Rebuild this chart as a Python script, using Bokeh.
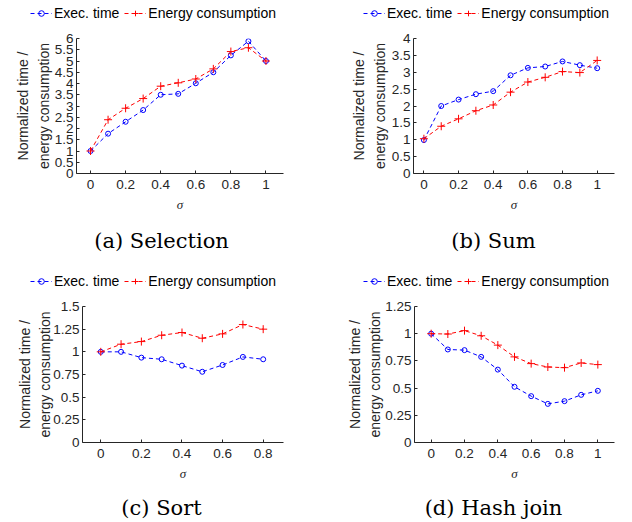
from bokeh.plotting import figure
from bokeh.layouts import row, column
from bokeh.models import Legend, LegendItem, Label, FixedTicker, NumeralTickFormatter, Range1d
from bokeh.embed import file_html
from bokeh.resources import INLINE

# ---------------- data ----------------
sigma_full = [0.0, 0.1, 0.2, 0.3, 0.4, 0.5, 0.6, 0.7, 0.8, 0.9, 1.0]
sigma_sort = [0.0, 0.1, 0.2, 0.3, 0.4, 0.5, 0.6, 0.7, 0.8]

sel_exec = [1.0, 1.77, 2.3, 2.82, 3.5, 3.54, 4.01, 4.5, 5.25, 5.88, 5.0]
sel_energy = [1.0, 2.39, 2.9, 3.33, 3.88, 4.03, 4.2, 4.65, 5.42, 5.59, 5.0]

sum_exec = [0.99, 2.0, 2.19, 2.35, 2.44, 2.91, 3.13, 3.17, 3.32, 3.21, 3.12]
sum_energy = [1.03, 1.4, 1.62, 1.86, 2.03, 2.41, 2.71, 2.85, 3.02, 2.99, 3.35]

sort_exec = [1.0, 1.0, 0.936, 0.918, 0.848, 0.78, 0.855, 0.944, 0.918]
sort_energy = [1.0, 1.084, 1.113, 1.183, 1.213, 1.15, 1.198, 1.301, 1.25]

hj_exec = [1.0, 0.855, 0.849, 0.787, 0.67, 0.512, 0.426, 0.355, 0.38, 0.438, 0.475]
hj_energy = [1.0, 0.997, 1.028, 0.981, 0.895, 0.787, 0.725, 0.694, 0.688, 0.731, 0.716]

x_ticks_full = [0, 0.2, 0.4, 0.6, 0.8, 1]
x_ticks_sort = [0, 0.2, 0.4, 0.6, 0.8]
y_ticks_sel = [0, 0.5, 1, 1.5, 2, 2.5, 3, 3.5, 4, 4.5, 5, 5.5, 6]
y_ticks_sum = [0, 0.5, 1, 1.5, 2, 2.5, 3, 3.5, 4]
y_ticks_sort = [0, 0.25, 0.5, 0.75, 1, 1.25, 1.5]
y_ticks_hj = [0, 0.25, 0.5, 0.75, 1, 1.25]

captions = ["(a) Selection", "(b) Sum", "(c) Sort", "(d) Hash join"]
series_names = ["Exec. time", "Energy consumption"]
y_label = "Normalized time /\nenergy consumption"
x_label = "\u03c3"

BLUE = "#0000ff"
RED = "#ff0000"
AX = "#262626"
SANS = "Liberation Sans"
COL_W = 316


def draw_series(p, x, ex, en):
    l1 = p.line(x, ex, line_color=BLUE, line_dash="4 3", line_width=1)
    s1 = p.scatter(x, ex, marker="circle", size=5, line_color=BLUE,
                   fill_color=None, line_width=1)
    l2 = p.line(x, en, line_color=RED, line_dash="4 3", line_width=1)
    s2 = p.scatter(x, en, marker="cross", size=8, line_color=RED, line_width=1)
    return l1, s1, l2, s2


def blank_fig(h, xr=(0, 1), yr=(0, 1)):
    f = figure(width=COL_W, height=h, output_backend="svg", toolbar_location=None,
               x_axis_type=None, y_axis_type=None, x_range=Range1d(*xr), y_range=Range1d(*yr),
               min_border=0, min_border_left=0, min_border_right=0,
               min_border_top=0, min_border_bottom=0)
    f.outline_line_color = None
    f.grid.visible = False
    f.background_fill_color = "white"
    f.border_fill_color = "white"
    return f


def legend_fig(x, ex, en, leg_x):
    # series drawn outside the visible range: only the legend entries show
    f = blank_fig(26, xr=(-10, -9), yr=(-10, -9))
    l1, s1, l2, s2 = draw_series(f, x, ex, en)
    legend = Legend(items=[LegendItem(label=series_names[0], renderers=[l1, s1]),
                           LegendItem(label=series_names[1], renderers=[l2, s2])],
                    orientation="horizontal", location=(leg_x, 5),
                    padding=0, margin=0, spacing=5, glyph_width=22, glyph_height=14,
                    label_height=14, label_standoff=2,
                    label_text_font=SANS, label_text_font_size="14px",
                    label_text_color="black",
                    background_fill_alpha=0, border_line_color=None)
    f.add_layout(legend)
    return f


def caption_fig(h, text, cx, cy):
    f = blank_fig(h)
    f.add_layout(Label(x=cx, y=cy, x_units="screen", y_units="screen",
                       text=text, text_align="center", text_baseline="alphabetic",
                       text_font="DejaVu Serif", text_font_size="21px",
                       text_color="black"))
    return f


def plot_fig(x, ex, en, xr, yr, xticks, yticks, h, bl, br, bt, bb, ystand):
    p = figure(width=COL_W, height=h, output_backend="svg", toolbar_location=None,
               x_range=Range1d(*xr), y_range=Range1d(*yr),
               min_border_left=bl, min_border_right=br,
               min_border_top=bt, min_border_bottom=bb)
    p.outline_line_color = None
    p.grid.visible = False
    p.background_fill_color = "white"
    p.border_fill_color = "white"
    draw_series(p, x, ex, en)

    for ax in (p.xaxis[0], p.yaxis[0]):
        ax.axis_line_color = AX
        ax.major_tick_line_color = AX
        ax.major_tick_in = 3
        ax.major_tick_out = 0
        ax.minor_tick_line_color = None
        ax.major_label_text_color = AX
        ax.major_label_text_font = SANS
        ax.major_label_text_font_size = "13.5px"

    p.xaxis.major_label_standoff = 6
    p.yaxis.major_label_standoff = 3
    p.xaxis.ticker = FixedTicker(ticks=xticks)
    p.yaxis.ticker = FixedTicker(ticks=yticks)
    p.xaxis.formatter = NumeralTickFormatter(format="0.[0]")
    p.yaxis.formatter = NumeralTickFormatter(format="0.[00]")

    p.xaxis.axis_label = x_label
    p.xaxis.axis_label_text_font = "Liberation Serif"
    p.xaxis.axis_label_text_font_style = "italic"
    p.xaxis.axis_label_text_font_size = "13px"
    p.xaxis.axis_label_text_color = AX
    p.xaxis.axis_label_standoff = 5

    p.yaxis.axis_label = y_label
    p.yaxis.axis_label_text_font = SANS
    p.yaxis.axis_label_text_font_style = "normal"
    p.yaxis.axis_label_text_font_size = "14px"
    p.yaxis.axis_label_text_color = AX
    p.yaxis.axis_label_text_line_height = 1.28
    p.yaxis.axis_label_standoff = ystand
    return p


# top row: legend 0-26, plot 26-224, caption 224-268
la = legend_fig(sigma_full, sel_exec, sel_energy, 30)
pa = plot_fig(sigma_full, sel_exec, sel_energy, (-0.08, 1.1), (0, 6), x_ticks_full, y_ticks_sel,
              198, 76, 33, 12, 51, 0)
ca = caption_fig(44, captions[0], 161, 28)

lb = legend_fig(sigma_full, sum_exec, sum_energy, 47)
pb = plot_fig(sigma_full, sum_exec, sum_energy, (-0.06, 1.1), (0, 4), x_ticks_full, y_ticks_sum,
              198, 97, 18, 12, 51, 1)
cb = caption_fig(44, captions[1], 177, 28)

# bottom row: legend 268-294, plot 294-490, caption 490-522
lc = legend_fig(sigma_sort, sort_exec, sort_energy, 30)
pc = plot_fig(sigma_sort, sort_exec, sort_energy, (-0.09, 0.9), (0, 1.5), x_ticks_sort, y_ticks_sort,
              196, 82, 33, 12, 48, -3)
cc = caption_fig(32, captions[2], 161, 15)

ld = legend_fig(sigma_full, hj_exec, hj_energy, 47)
pd = plot_fig(sigma_full, hj_exec, hj_energy, (-0.1, 1.1), (0, 1.25), x_ticks_full, y_ticks_hj,
              196, 98, 18, 12, 48, -1)
cd = caption_fig(32, captions[3], 177, 15)

layout = column(row(la, lb), row(pa, pb), row(ca, cb),
                row(lc, ld), row(pc, pd), row(cc, cd))
open("out.html", "w").write(file_html(layout, INLINE))
